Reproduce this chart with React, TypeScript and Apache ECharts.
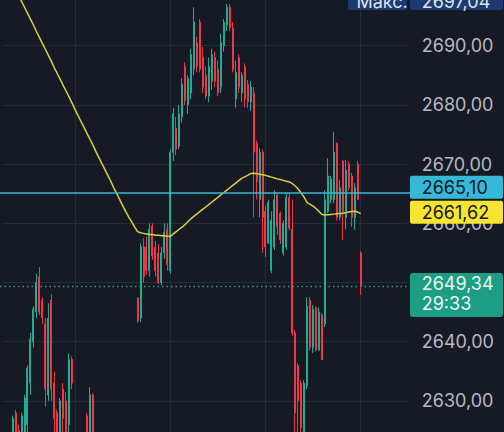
import React, { useEffect, useRef } from "react";
import * as echarts from "echarts";

// ---- Data ----
const OPEN = [
  2621, 2618, 2622, 2620, 2628, 2625, 2622, 2624, 2626, 2633,
  2640, 2645, 2651, 2647, 2643, 2631, 2647, 2633, 2628, 2622,
  2632, 2630, 2626, 2637, 2624, 2618, 2622, 2618, 2627.5, 2621,
  2631, 2624, 2619, 2622, 2617, 2614, 2618, 2615, 2619, 2621,
  2617, 2620, 2616, 2620, 2622, 2647.4, 2644, 2656, 2656, 2652,
  2659.5, 2656, 2655, 2650, 2655, 2659, 2652, 2672, 2676, 2673,
  2678, 2686.5, 2680, 2682, 2686, 2690.5, 2694, 2688, 2685, 2681.5,
  2684, 2688, 2686, 2683, 2690, 2693.5, 2696.5, 2693, 2681, 2688,
  2682, 2686.5, 2683.5, 2680.5, 2682, 2673.5, 2664, 2672, 2662, 2656.7,
  2652, 2656, 2664.8, 2661.7, 2655, 2656, 2664.4, 2659, 2641.5, 2636,
  2633, 2623, 2632.5, 2647, 2639, 2645.7, 2638.6, 2644.5, 2643, 2662,
  2664, 2664, 2673.5, 2661, 2670.5, 2661, 2670, 2668, 2661, 2670,
  2655,
];
const CLOSE = [
  2618, 2622, 2619, 2627, 2623, 2621, 2627.5, 2630.5, 2635.5, 2640.5,
  2645.5, 2650, 2645, 2644, 2632, 2644, 2632, 2627, 2622, 2630,
  2627, 2624, 2637, 2633, 2619, 2622, 2618, 2623, 2621, 2631,
  2624, 2619, 2622, 2617, 2614, 2618, 2615, 2619, 2621, 2617,
  2620, 2616, 2620, 2623, 2624, 2643.5, 2656, 2651, 2652, 2659,
  2654.5, 2652, 2650, 2655, 2658.5, 2653, 2672, 2678.5, 2672.5, 2678.5,
  2683.5, 2680.8, 2684.5, 2688.5, 2694, 2686.5, 2686, 2683, 2681.5, 2686.5,
  2688.5, 2684, 2682, 2690.5, 2694, 2696.5, 2693, 2686, 2685.5, 2683,
  2685, 2681, 2680.5, 2683, 2672, 2667, 2672, 2661, 2656, 2663.5,
  2660.5, 2664, 2659.4, 2657.2, 2660, 2664.4, 2659.2, 2641.5, 2628, 2630,
  2625.5, 2633, 2646, 2639, 2645.5, 2638.6, 2645, 2637, 2664, 2668,
  2667.5, 2672, 2661, 2666, 2662, 2669, 2666, 2661, 2666, 2664,
  2649.34,
];
const LOW = [
  2616, 2617, 2617, 2619, 2621, 2619, 2620, 2622, 2623, 2631,
  2639, 2644, 2644.5, 2643, 2629, 2630, 2630, 2622, 2620, 2620,
  2624, 2622, 2624, 2632, 2617, 2616, 2615, 2616, 2619, 2620,
  2622, 2617, 2617, 2615, 2612, 2613, 2613, 2614, 2618, 2616,
  2615, 2615, 2615, 2619, 2620, 2643.2, 2643.3, 2650, 2651.3, 2651,
  2653.8, 2651, 2649.7, 2649.5, 2654, 2652, 2651.5, 2670.5, 2671.5, 2672.5,
  2677, 2680, 2678.5, 2681, 2685, 2685.5, 2685.5, 2682, 2681, 2680.5,
  2682.5, 2683, 2681.5, 2682, 2689, 2692.5, 2692.5, 2685.5, 2679.5, 2682,
  2680.5, 2679.6, 2679.5, 2679, 2661, 2664, 2661, 2655, 2654.3, 2656.5,
  2651.6, 2655.5, 2658, 2656.5, 2654.5, 2655.5, 2658.8, 2641, 2623, 2622,
  2621, 2620, 2632, 2638.5, 2638.1, 2638.3, 2638.4, 2636.9, 2642.5, 2661.7,
  2663.4, 2663.4, 2660.5, 2660.5, 2657.2, 2659, 2665.5, 2659.4, 2658.9, 2663.9,
  2647.9,
];
const HIGH = [
  2622, 2623, 2623.5, 2627.5, 2628.5, 2626, 2628, 2631, 2636, 2641.5,
  2646, 2651.5, 2652.6, 2647.5, 2644, 2646.5, 2648, 2635, 2628.5, 2630.5,
  2633, 2631.5, 2638, 2637.5, 2624.5, 2623, 2623, 2624, 2628, 2632.3,
  2631.3, 2624.3, 2623, 2623, 2618, 2619, 2619, 2620, 2622, 2622,
  2621, 2621, 2621, 2624, 2624.5, 2647.5, 2656.6, 2657.5, 2657.7, 2660,
  2660, 2657, 2656.5, 2656, 2660, 2660, 2672.5, 2679.5, 2678, 2680,
  2684.5, 2687.2, 2685, 2689.5, 2696.5, 2691.5, 2694.5, 2689.8, 2686.5, 2688,
  2689.5, 2689, 2687.5, 2692, 2694.5, 2697.04, 2697, 2694, 2687.5, 2688.5,
  2685.5, 2687, 2684.2, 2684, 2683, 2674, 2672.7, 2672.5, 2663, 2664,
  2662, 2665.6, 2665, 2662, 2660.5, 2665, 2665, 2664, 2642, 2636.4,
  2633.5, 2633.5, 2647.5, 2647.5, 2646.2, 2646, 2645.8, 2644.8, 2665.6, 2671,
  2668, 2675.4, 2673.7, 2667.3, 2670.7, 2670.7, 2670.5, 2668.5, 2666.8, 2670.5,
  2655.3,
];
const MA = [
  2703.6, 2702.6, 2701.6, 2700.6, 2699.5, 2698.5, 2697.5, 2696.5, 2695.5, 2694.5,
  2693.5, 2692.4, 2691.4, 2690.4, 2689.4, 2688.4, 2687.4, 2686.3, 2685.3, 2684.3,
  2683.3, 2682.3, 2681.3, 2680.3, 2679.2, 2678.2, 2677.2, 2676.2, 2675.2, 2674.2,
  2673.2, 2672.1, 2671.1, 2670.1, 2669.1, 2668.1, 2667.1, 2666.0, 2665.0, 2664.0,
  2663.0, 2662.0, 2661.1, 2660.3, 2659.4, 2658.6, 2658.4, 2658.3, 2658.2, 2658.1,
  2658.1, 2658.0, 2658.0, 2657.9, 2657.9, 2657.8, 2657.8, 2658.2, 2658.6, 2659.0,
  2659.35, 2659.8, 2660.3, 2660.8, 2661.2, 2661.6, 2662.0, 2662.4, 2662.8, 2663.2,
  2663.6, 2664.0, 2664.4, 2664.8, 2665.2, 2665.6, 2666.0, 2666.4, 2666.8, 2667.2,
  2667.6, 2667.85, 2668.1, 2668.4, 2668.45, 2668.4, 2668.3, 2668.2, 2668.1, 2667.95,
  2667.8, 2667.65, 2667.5, 2667.4, 2667.25, 2667.1, 2667.0, 2666.7, 2666.3, 2665.8,
  2665.1, 2664.4, 2663.5, 2663.2, 2662.9, 2662.5, 2662.0, 2661.5, 2661.4, 2661.45,
  2661.5, 2661.55, 2661.6, 2661.65, 2661.7, 2661.8, 2661.9, 2662.0, 2662.05, 2661.9,
  2661.62,
];
const EMPTY_SLOTS = 15;
const V_GRID_INDEX = [24, 56, 88, 120];
const Y_MIN = 2620;
const Y_MAX = 2700;
const Y_STEP = 10;
const LINE_PRICE = 2665.1;
const MA_LAST = 2661.62;
const CURRENT_PRICE = 2649.34;
const COUNTDOWN = "29:33";
const MAX_PRICE = 2697.04;
const MAX_LABEL = "Макс.";

// ---- Styles / layout ----
const BG = "#161a25";
const GRID_COLOR = "#262b38";
const UP = "#22ab94";
const DOWN = "#f23645";
const MA_COLOR = "#dccf3c";
const CYAN = "#36b9d6";
const YELLOW = "#f7e431";
const GREEN = "#1b9e84";
const NAVY = "#1d3a70";
const LABEL_COLOR = "#b6b9c3";
const FONT = "Inter";
const GRID_LEFT = 2.2;
const SLOT = 2.975;
const GRID_TOP = -13.5;
const GRID_HEIGHT = 473.6;

const fmt = (v: number) => v.toFixed(2).replace(".", ",");

export default function App() {
  const ref = useRef<HTMLDivElement>(null);

  useEffect(() => {
    const el = ref.current;
    if (!el) return;
    const chart = echarts.init(el, null, { renderer: "svg", width: 504, height: 432 });
    const total = OPEN.length + EMPTY_SLOTS;
    const categories = Array.from({ length: total }, (_, i) => String(i));
    const candles = OPEN.map((o, i) => [o, CLOSE[i], LOW[i], HIGH[i]]);
    const gridWidth = total * SLOT;
    const plotRight = GRID_LEFT + gridWidth;

    chart.setOption({
      animation: false,
      backgroundColor: BG,
      grid: {
        left: GRID_LEFT,
        width: gridWidth,
        top: GRID_TOP,
        height: GRID_HEIGHT,
        containLabel: false,
        outerBoundsMode: "none",
      },
      xAxis: {
        type: "category",
        data: categories,
        boundaryGap: true,
        axisLine: { show: false },
        axisTick: { show: false },
        axisLabel: { show: false },
        splitLine: {
          show: true,
          alignWithLabel: true,
          interval: (idx: number) => V_GRID_INDEX.indexOf(idx) >= 0,
          lineStyle: { color: GRID_COLOR, width: 1 },
        },
      },
      yAxis: {
        type: "value",
        position: "right",
        min: Y_MIN,
        max: Y_MAX,
        interval: Y_STEP,
        scale: true,
        axisLine: { show: false },
        axisTick: { show: false },
        axisLabel: {
          color: LABEL_COLOR,
          fontFamily: FONT,
          fontSize: 18,
          margin: 15,
          showMinLabel: false,
          showMaxLabel: false,
          formatter: (v: number) => fmt(v),
        },
        splitLine: { lineStyle: { color: GRID_COLOR, width: 1 } },
      },
      series: [
        {
          type: "candlestick",
          data: candles,
          barWidth: 1.5,
          z: 2,
          itemStyle: {
            color: UP,
            color0: DOWN,
            borderColor: UP,
            borderColor0: DOWN,
            borderWidth: 1,
          },
        },
        {
          type: "line",
          data: MA,
          symbol: "none",
          showSymbol: false,
          z: 3,
          lineStyle: { color: MA_COLOR, width: 1.5 },
        },
      ],
    });

    const py = (v: number) => chart.convertToPixel({ yAxisIndex: 0 }, v) as number;
    const yLine = py(LINE_PRICE);
    const yMa = py(MA_LAST);
    const yCur = py(CURRENT_PRICE);
    const yMax = py(MAX_PRICE);

    const boxX = 410;
    const boxW = 93;
    const boxH = 23;
    const textX = 421.7;
    const yellowTop = yMa - 1.5 - boxH / 2;
    const cyanCenter = Math.min(yLine, yellowTop - 2 - boxH / 2);
    const txt = (text: string, x: number, y: number, fill: string) => ({
      type: "text",
      z: 12,
      style: {
        text,
        x,
        y,
        fill,
        fontFamily: FONT,
        fontSize: 18,
        align: "left",
        verticalAlign: "middle",
      },
    });

    chart.setOption({
      graphic: [
        {
          type: "line",
          z: 10,
          shape: { x1: 0, y1: yCur, x2: plotRight + 1, y2: yCur },
          style: { stroke: "#3f8f86", lineWidth: 1.5, lineDash: [1.5, 3] },
        },
        {
          type: "line",
          z: 10,
          shape: { x1: 0, y1: yLine, x2: boxX, y2: yLine },
          style: { stroke: CYAN, lineWidth: 1.5 },
        },
        {
          type: "rect",
          z: 11,
          shape: { x: boxX, y: cyanCenter - boxH / 2, width: boxW, height: boxH, r: 2 },
          style: { fill: CYAN },
        },
        txt(fmt(LINE_PRICE), textX, cyanCenter + 0.5, "#131722"),
        {
          type: "rect",
          z: 11,
          shape: { x: boxX, y: yellowTop, width: boxW, height: boxH, r: 2 },
          style: { fill: YELLOW },
        },
        txt(fmt(MA_LAST), textX, yellowTop + boxH / 2 + 0.5, "#131722"),
        {
          type: "rect",
          z: 11,
          shape: { x: boxX, y: yCur - 13.5, width: boxW, height: 44, r: 3 },
          style: { fill: GREEN },
        },
        txt(fmt(CURRENT_PRICE), textX, yCur - 2.5, "#eef5f3"),
        txt(COUNTDOWN, textX, yCur + 17, "#eef5f3"),
        {
          type: "rect",
          z: 11,
          shape: { x: 348, y: yMax - 18, width: 59, height: 24, r: 2 },
          style: { fill: NAVY },
        },
        {
          type: "rect",
          z: 11,
          shape: { x: boxX, y: yMax - 18, width: boxW, height: 24, r: 2 },
          style: { fill: NAVY },
        },
        txt(MAX_LABEL, 356.5, yMax - 2.5, "#dfe3ec"),
        txt(fmt(MAX_PRICE), textX, yMax - 2.5, "#dfe3ec"),
      ],
    });

    return () => chart.dispose();
  }, []);

  return (
    <div
      ref={ref}
      style={{ position: "fixed", left: 0, top: 0, width: 504, height: 432, background: BG }}
    />
  );
}
